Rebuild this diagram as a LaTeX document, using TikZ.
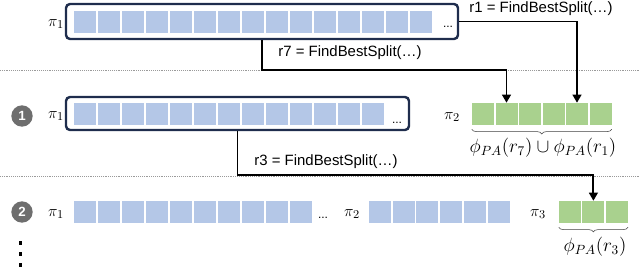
\documentclass[tikz,border=0pt]{standalone}
\usepackage{amsmath,amssymb,xcolor,tikz}
\usepackage{fontspec}
\newfontfamily\labelfont{Liberation Sans}
\usetikzlibrary{arrows.meta,positioning,calc,decorations.pathreplacing}
\definecolor{Bc}{HTML}{B4C7E7}
\definecolor{Gc}{HTML}{A9D18E}
\definecolor{Fc}{HTML}{1F2D4D}
\definecolor{Nc}{HTML}{6E6E6E}
\definecolor{faint}{HTML}{9A9A9A}
\tikzset{
  bcell/.style={rectangle, fill=Bc, inner sep=0pt, minimum size=16.5pt},
  gcell/.style={rectangle, fill=Gc, inner sep=0pt, minimum size=16.5pt},
  frame/.style={rectangle, draw=Fc, line width=1.8pt, rounded corners=3pt, inner sep=0pt},
  badge/.style={circle, fill=Nc, text=white, inner sep=0pt, minimum size=16pt, font=\labelfont\bfseries\fontsize{10}{12}\selectfont},
  link/.style={-{Triangle[length=6pt, width=6.5pt]}, line width=1.4pt},
  divider/.style={faint, densely dotted, thin},
  call/.style={inner sep=1pt, font=\labelfont\fontsize{11.2}{13}\selectfont},
  lbl/.style={inner sep=0pt, font=\fontsize{13}{15}\selectfont},
  more/.style={inner sep=0pt, font=\labelfont\fontsize{9}{11}\selectfont},
  setlbl/.style={inner sep=0pt, font=\fontsize{13.8}{16}\selectfont},
  brace/.style={decorate, decoration={brace, mirror, amplitude=3.5pt}, thin, black!75},
  vdot/.style={rectangle, fill=black, inner sep=0pt, minimum size=2.4pt},
}
% #1 prefix, #2 style, #3 count, #4 left x, #5 pitch, #6 centre y
\newcommand{\cells}[6]{%
  \foreach \i in {1,...,#3}
    \node[#2] (#1\i) at ({#4+11+#5*(\i-1)},#6) {};}

\begin{document}
\begin{tikzpicture}[x=0.75pt, y=-0.75pt]
  \useasboundingbox (0,0) rectangle (640,268);
  \draw[divider] (0,70) -- (640,70);
  \draw[divider] (0,176) -- (640,176);
  % step 0
  \node[frame, minimum width=294pt, minimum height=26.25pt] (f0) at (262,21.5) {};
  \cells{a}{bcell}{15}{74}{24}{22}
  \node[lbl] (p0) at (56,24) {$\pi_1$};
  \node[more] (m0) at (448,27) {...};
  \node[call] (r1) at (541,9) {r1 = FindBestSplit(…)};
  \node[call] (r7) at (350,53) {r7 = FindBestSplit(…)};
  % step 1
  \node[badge] (n1) at (22,116) {1};
  \node[frame, minimum width=257.25pt, minimum height=24.75pt] (f1) at (237.5,113.5) {};
  \cells{b}{bcell}{13}{74}{24}{114}
  \node[lbl] (p1) at (56,116) {$\pi_1$};
  \node[more] (m1) at (397,123) {...};
  \node[lbl] (p2) at (452,117) {$\pi_2$};
  \cells{g}{gcell}{6}{472}{23.5}{114}
  \draw[brace] ([yshift=-3pt]g1.south west) -- ([yshift=-3pt]g6.south east);
  \node[setlbl] (s1) at (543,148) {$\phi_{PA}(r_7)\cup\phi_{PA}(r_1)$};
  \node[call] (r3) at (326,162) {r3 = FindBestSplit(…)};
  % step 2
  \node[badge] (n2) at (22,212) {2};
  \cells{c}{bcell}{10}{74}{24}{212}
  \node[lbl] (q1) at (56,214) {$\pi_1$};
  \node[more] (m2) at (323,218) {...};
  \node[lbl] (q2) at (352,214) {$\pi_2$};
  \cells{d}{bcell}{6}{369}{23.7}{212}
  \node[lbl] (q3) at (538,214) {$\pi_3$};
  \cells{e}{gcell}{3}{559}{23.4}{212}
  \draw[brace] ([yshift=-3pt]e1.south west) -- ([yshift=-3pt]e3.south east);
  \node[setlbl] (s2) at (595,247) {$\phi_{PA}(r_3)$};
  \foreach \k/\yy in {1/243,2/254,3/265} \node[vdot] (v\k) at (20.5,\yy) {};
  % splits
  \coordinate (k7) at (262,70);
  \coordinate (k3) at (237.5,175);
  \draw[link] (f0.east) -| (g5.north);
  \draw[link] (f0.south) -- (k7) -| (g2.north);
  \draw[link] (f1.south) -- (k3) -| (e2.north);
\end{tikzpicture}
\end{document}
